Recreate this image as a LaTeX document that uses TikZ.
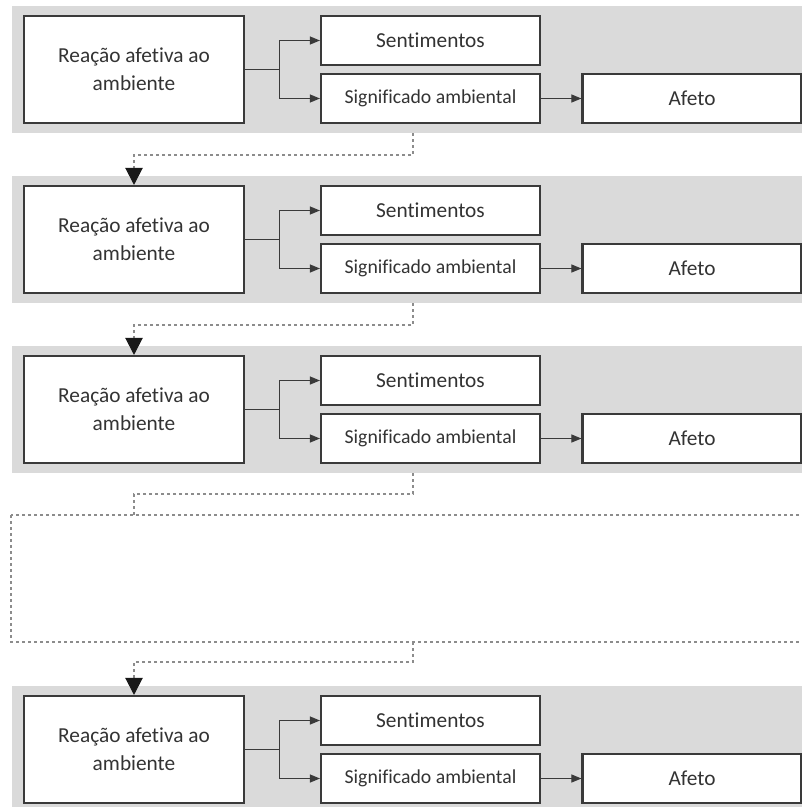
\documentclass[tikz,border=0pt]{standalone}
\usepackage{fontspec}
\setmainfont[Ligatures=NoCommon]{Carlito}
\usetikzlibrary{arrows.meta}
\definecolor{fundo}{HTML}{DADADA}
\definecolor{borda}{HTML}{3A3A3A}
\definecolor{texto}{HTML}{333333}
\definecolor{traco}{HTML}{8C8C8C}

\begin{document}
\begin{tikzpicture}[x=0.75pt,y=-0.75pt,
    caixa/.style={draw=borda,fill=white,line width=1.6pt,text=texto,inner sep=0pt,
      align=center,font=\fontsize{16}{21}\selectfont},
    grande/.style={caixa,minimum width=165pt,minimum height=80.25pt},
    pequena/.style={caixa,minimum width=164.25pt,minimum height=36.75pt},
    seta/.style={draw=borda,line width=0.8pt,-{Triangle[length=7.5pt,width=6pt]}},
    tracejado/.style={draw=traco,line width=0.8pt,dash pattern=on 2.5pt off 2pt},
    setagrande/.style={tracejado,-{Triangle[length=12.75pt,width=13pt,color=black!90]}}]

    \useasboundingbox (0,0) rectangle (802,807);

    \foreach \k/\o in {1/0,2/170,3/340,5/680}
    {
        \fill[fundo] (12,6+\o) rectangle (806,133+\o);
        \node[grande] (r\k) at (134,69.5+\o) {Reação afetiva ao\\ambiente};
        \node[pequena] (s\k) at (430.5,40.5+\o) {Sentimentos};
        \node[pequena,font=\fontsize{14.8}{18}\selectfont] (m\k) at (430.5,98.5+\o) {Significado ambiental};
        \node[pequena] (a\k) at (692,98.5+\o) {Afeto};

        \draw[seta] (r\k.east) -- ++(34,0) |- (s\k.west);
        \draw[seta] (r\k.east) -- ++(34,0) |- (m\k.west);
        \draw[seta] (m\k) -- (a\k);
    }

    % painel omitido
    \draw[tracejado] (11,515) rectangle (806,642);

    \coordinate (o1) at (413,133);
    \coordinate (o2) at (413,303);
    \coordinate (o3) at (413,473);
    \coordinate (o4) at (413,642);
    \coordinate (i4) at (134,515);

    \draw[setagrande] (o1) -- ++(0,22) -| (r2.north);
    \draw[setagrande] (o2) -- ++(0,22) -| (r3.north);
    \draw[tracejado] (o3) -- ++(0,21) -| (i4);
    \draw[setagrande] (o4) -- ++(0,20) -| (r5.north);
\end{tikzpicture}
\end{document}
